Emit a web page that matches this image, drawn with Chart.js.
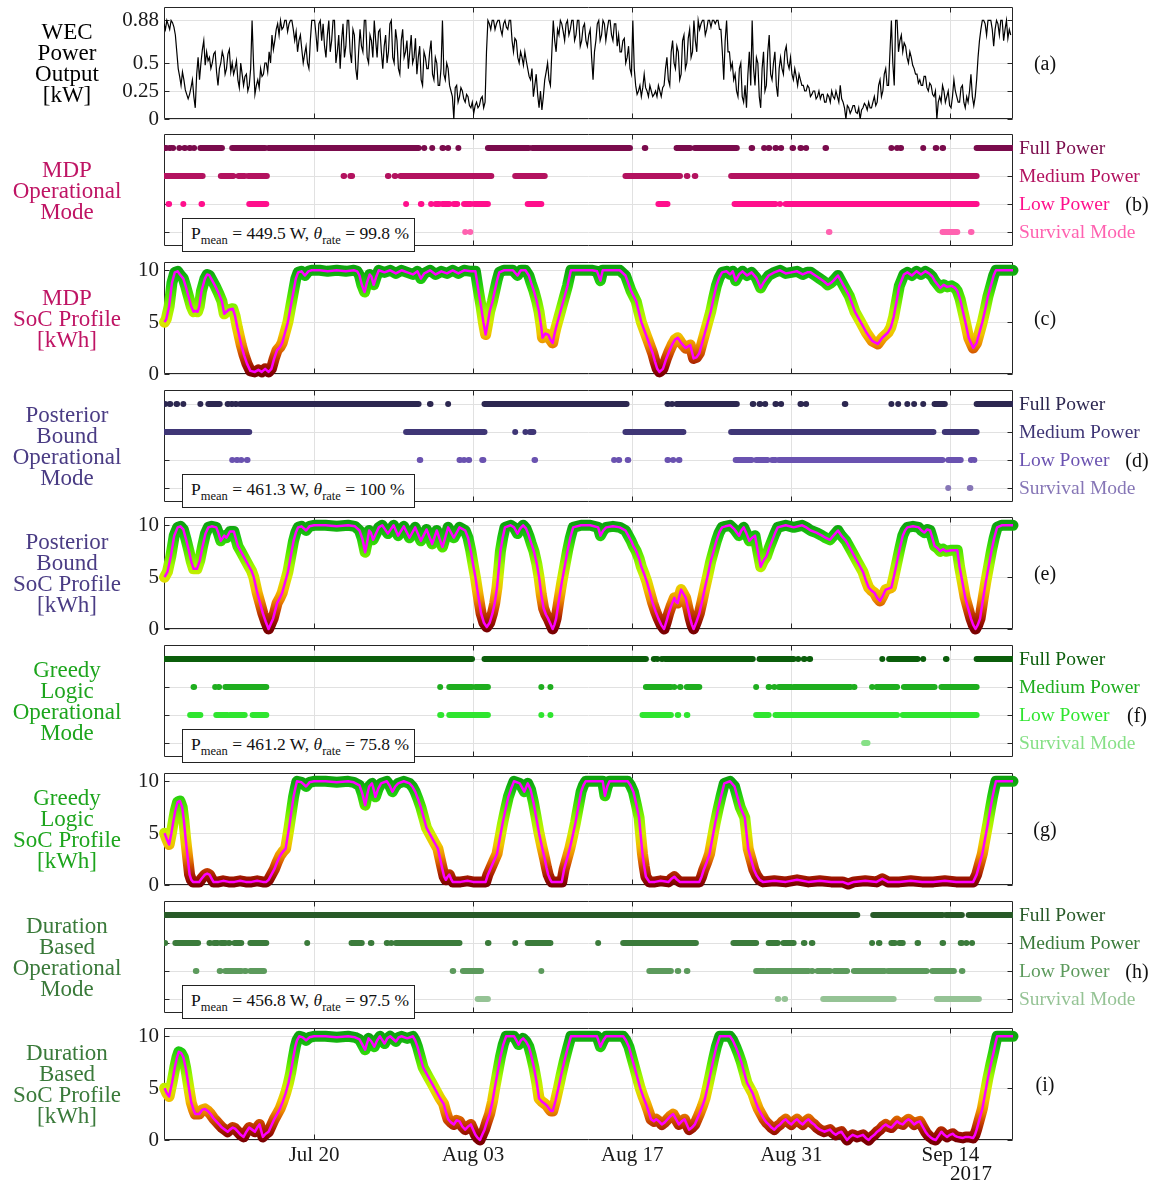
<!DOCTYPE html>
<html>
<head>
<meta charset="utf-8">
<script src="https://cdn.jsdelivr.net/npm/chart.js@4.4.1/dist/chart.umd.min.js"></script>
<style>
  body { margin: 0; background: #fff; }
  #wrap { position: relative; width: 1157px; height: 1184px; overflow: hidden; background: #fff;
          font-family: "Liberation Serif", "Times New Roman", serif; color: #111; }
  canvas { position: absolute; left: 0; }
  .lab { position: absolute; left: 0; width: 134px; text-align: center; font-size: 23px; line-height: 21px;
         transform: translateY(-50%); z-index: 4; }
  .mode { position: absolute; left: 1019px; font-size: 19.5px; line-height: 20px; white-space: nowrap;
          transform: translateY(-50%); z-index: 4; }
  .tag { position: absolute; font-size: 20px; line-height: 20px; transform: translate(-50%, -50%); z-index: 4; }
  .box { position: absolute; left: 182px; width: 233px; height: 34px; box-sizing: border-box; border: 1.3px solid #222;
         background: #fff; font-size: 17.5px; line-height: 28px; padding-left: 8px; z-index: 5; white-space: nowrap; }
  .box sub { font-size: 12.5px; vertical-align: -5px; line-height: 0; }
  .yr { position: absolute; left: 950px; top: 1161px; font-size: 21px; z-index: 4; }
</style>
</head>
<body>
<div id="wrap"></div>
<script>
const FONT = '"Liberation Serif", "Times New Roman", serif';

// ---- time axis (days counted from 1 July 2017) ----
const xMin = 5.8, xMax = 80.5;
const tickDays = [19, 33, 47, 61, 75];
const tickLabels = ['Jul 20', 'Aug 03', 'Aug 17', 'Aug 31', 'Sep 14'];

// ---- WEC power output [kW], one sample every 3 h from day 5.8 ----
const powerStart = 5.8, powerStep = 0.125;
const wecPower = [
  0.85, 0.8, 0.88, 0.84, 0.8, 0.88, 0.86, 0.82, 0.75, 0.6,
  0.45, 0.38, 0.3, 0.42, 0.35, 0.26, 0.22, 0.18,
  0.22, 0.28, 0.35, 0.2, 0.1, 0.4, 0.55, 0.35,
  0.5, 0.62, 0.7, 0.48, 0.6, 0.52, 0.55, 0.45,
  0.5, 0.58, 0.6, 0.42, 0.3, 0.45, 0.5, 0.6,
  0.55, 0.4, 0.45, 0.58, 0.62, 0.42, 0.5, 0.4,
  0.45, 0.52, 0.35, 0.28, 0.5, 0.4, 0.3, 0.38,
  0.4, 0.25, 0.3, 0.45, 0.88, 0.5, 0.22, 0.3,
  0.35, 0.28, 0.45, 0.38, 0.4, 0.5, 0.5, 0.42,
  0.6, 0.5, 0.75, 0.62, 0.7, 0.8, 0.85, 0.75,
  0.88, 0.8, 0.82, 0.88, 0.88, 0.78, 0.85, 0.88,
  0.88, 0.8, 0.7, 0.78, 0.6, 0.7, 0.75, 0.62,
  0.5, 0.58, 0.65, 0.5, 0.45, 0.7, 0.88, 0.88,
  0.88, 0.75, 0.6, 0.85, 0.88, 0.7, 0.85, 0.65,
  0.55, 0.75, 0.88, 0.6, 0.7, 0.88, 0.88, 0.5,
  0.6, 0.75, 0.45, 0.7, 0.85, 0.55, 0.65, 0.88,
  0.88, 0.6, 0.5, 0.8, 0.75, 0.45, 0.35, 0.6,
  0.8, 0.65, 0.6, 0.88, 0.88, 0.55, 0.5, 0.75,
  0.7, 0.55, 0.88, 0.7, 0.55, 0.78, 0.8, 0.6,
  0.45, 0.65, 0.75, 0.5, 0.6, 0.85, 0.88, 0.55,
  0.5, 0.8, 0.7, 0.45, 0.4, 0.7, 0.8, 0.55,
  0.6, 0.7, 0.45, 0.6, 0.75, 0.5, 0.55, 0.72,
  0.4, 0.55, 0.65, 0.35, 0.3, 0.6, 0.55, 0.45,
  0.45, 0.6, 0.7, 0.4, 0.35, 0.55, 0.5, 0.3,
  0.3, 0.45, 0.88, 0.4, 0.35, 0.5, 0.45, 0.3,
  0.25, 0.2, 0.0, 0.28, 0.3, 0.15, 0.2, 0.28,
  0.25, 0.18, 0.15, 0.22, 0.2, 0.12, 0.1, 0.15,
  0.05, 0.12, 0.15, 0.1, 0.12, 0.18, 0.2, 0.1,
  0.15, 0.6, 0.88, 0.85, 0.8, 0.88, 0.88, 0.8,
  0.85, 0.88, 0.88, 0.8, 0.75, 0.85, 0.88, 0.82,
  0.8, 0.88, 0.88, 0.7, 0.6, 0.72, 0.7, 0.55,
  0.5, 0.6, 0.55, 0.48, 0.6, 0.52, 0.45, 0.38,
  0.35, 0.45, 0.2, 0.3, 0.4, 0.22, 0.1, 0.25,
  0.08, 0.2, 0.35, 0.42, 0.5, 0.35, 0.3, 0.6,
  0.88, 0.7, 0.6, 0.8, 0.75, 0.88, 0.85, 0.78,
  0.7, 0.85, 0.88, 0.75, 0.8, 0.88, 0.88, 0.7,
  0.75, 0.88, 0.88, 0.65, 0.7, 0.82, 0.85, 0.7,
  0.65, 0.75, 0.8, 0.55, 0.35, 0.6, 0.7, 0.85,
  0.88, 0.7, 0.75, 0.88, 0.85, 0.7, 0.8, 0.88,
  0.88, 0.75, 0.7, 0.85, 0.85, 0.65, 0.75, 0.6,
  0.6, 0.7, 0.72, 0.5, 0.55, 0.65, 0.45, 0.4,
  0.88, 0.45, 0.3, 0.22, 0.25, 0.3, 0.2, 0.28,
  0.4, 0.28, 0.25, 0.2, 0.3, 0.25, 0.2, 0.22,
  0.25, 0.2, 0.3, 0.25, 0.2, 0.28, 0.3, 0.45,
  0.55, 0.35, 0.3, 0.6, 0.7, 0.5, 0.45, 0.65,
  0.6, 0.35, 0.4, 0.7, 0.75, 0.45, 0.5, 0.72,
  0.8, 0.55, 0.6, 0.88, 0.7, 0.6, 0.88, 0.8,
  0.85, 0.88, 0.88, 0.75, 0.8, 0.88, 0.88, 0.82,
  0.88, 0.88, 0.85, 0.88, 0.88, 0.8, 0.8, 0.6,
  0.35, 0.7, 0.88, 0.6, 0.6, 0.45, 0.5, 0.35,
  0.4, 0.25, 0.2, 0.45, 0.5, 0.2, 0.15, 0.3,
  0.1, 0.4, 0.6, 0.3, 0.88, 0.45, 0.3, 0.55,
  0.5, 0.2, 0.1, 0.45, 0.6, 0.25, 0.3, 0.6,
  0.75, 0.4, 0.35, 0.5, 0.6, 0.3, 0.2, 0.45,
  0.55, 0.45, 0.4, 0.6, 0.65, 0.5, 0.45, 0.55,
  0.4, 0.35, 0.45, 0.38, 0.3, 0.4, 0.35, 0.3,
  0.3, 0.25, 0.25, 0.3, 0.28, 0.2, 0.22, 0.25,
  0.25, 0.18, 0.2, 0.25, 0.18, 0.22, 0.22, 0.15,
  0.15, 0.22, 0.2, 0.15, 0.25, 0.2, 0.18, 0.25,
  0.2, 0.15, 0.3, 0.18, 0.15, 0.1, 0.0, 0.12,
  0.1, 0.05, 0.08, 0.12, 0.12, 0.06, 0.05, 0.1,
  0.0, 0.08, 0.1, 0.14, 0.12, 0.08, 0.15, 0.1,
  0.1, 0.15, 0.2, 0.12, 0.15, 0.3, 0.35, 0.2,
  0.25, 0.4, 0.45, 0.3, 0.3, 0.6, 0.88, 0.5,
  0.3, 0.88, 0.88, 0.6, 0.7, 0.75, 0.6, 0.68,
  0.65, 0.55, 0.5, 0.6, 0.55, 0.48, 0.45, 0.4,
  0.4, 0.32, 0.35, 0.3, 0.3, 0.38, 0.38, 0.28,
  0.25, 0.32, 0.3, 0.22, 0.2, 0.25, 0.0, 0.15,
  0.2, 0.15, 0.3, 0.25, 0.15, 0.2, 0.25, 0.12,
  0.1, 0.2, 0.35, 0.25, 0.2, 0.15, 0.15, 0.28,
  0.3, 0.15, 0.1, 0.2, 0.15, 0.25, 0.4, 0.2,
  0.12, 0.2, 0.35, 0.55, 0.7, 0.8, 0.88, 0.88,
  0.85, 0.75, 0.88, 0.88, 0.88, 0.8, 0.65, 0.8,
  0.88, 0.85, 0.75, 0.88, 0.88, 0.7, 0.8, 0.88,
  0.72, 0.8, 0.75
];
const powerTicks = [0, 0.25, 0.5, 0.88];
const powerTickLabels = ['0', '0.25', '0.5', '0.88'];

// ---- state of charge [kWh]: [day, value] ----
const socTicks = [0, 5, 10];
const socTickLabels = ['0', '5', '10'];

const socMDP = [[5.85,5.0],[6.0,5.3],[6.25,6.5],[6.5,8.8],[6.75,9.8],[7.0,9.9],[7.2,9.6],[7.5,9.2],[7.7,8.5],[7.95,7.5],[8.2,6.5],[8.4,6.0],[8.55,6.1],[8.75,6.0],[8.9,6.5],[9.1,8.0],[9.4,9.2],[9.6,9.6],[9.8,9.5],[10.05,9.0],[10.3,8.5],[10.6,7.8],[10.9,7.0],[11.1,5.8],[11.3,6.0],[11.5,6.2],[11.85,6.3],[12.05,5.6],[12.25,4.5],[12.6,2.8],[12.85,1.8],[13.1,1.0],[13.4,0.3],[13.8,0.2],[14.1,0.4],[14.4,0.2],[14.7,0.5],[15.0,0.2],[15.25,0.5],[15.5,1.5],[15.75,2.3],[16.0,2.6],[16.2,3.0],[16.45,4.0],[16.7,5.0],[16.95,6.5],[17.2,8.0],[17.4,9.2],[17.6,9.8],[17.9,9.9],[18.2,9.5],[18.5,9.9],[18.8,10],[19.5,10],[20.2,9.9],[21.0,10],[21.8,9.9],[22.5,10],[22.8,9.9],[23.0,9.5],[23.2,8.6],[23.45,7.9],[23.65,8.8],[23.9,9.6],[24.05,9.4],[24.25,8.6],[24.45,9.3],[24.7,10],[25.2,9.8],[25.7,10],[26.2,9.7],[26.7,10],[27.2,9.8],[27.7,9.6],[28.1,9.9],[28.4,9.2],[28.7,9.7],[29.2,10],[29.7,9.6],[30.2,9.9],[30.7,9.7],[31.2,10],[31.7,9.7],[32.2,10],[32.8,9.9],[33.2,9.9],[33.5,7.8],[33.7,6.5],[33.9,5.0],[34.1,3.8],[34.3,5.0],[34.45,6.0],[34.7,7.0],[34.9,8.0],[35.1,9.0],[35.3,9.8],[35.7,10],[36.5,10],[36.9,9.5],[37.2,10],[37.6,10],[37.9,9.5],[38.1,8.8],[38.35,8.0],[38.6,7.0],[38.8,6.0],[39.0,4.5],[39.1,3.5],[39.35,3.9],[39.6,3.8],[39.8,3.3],[40.0,3.0],[40.15,3.8],[40.3,4.5],[40.55,5.5],[40.8,6.5],[41.05,7.5],[41.3,8.5],[41.6,10],[42.5,10],[43.5,10],[43.9,9.9],[44.2,9.0],[44.4,10],[45.2,10],[45.9,10],[46.4,9.5],[46.9,8.0],[47.35,7.0],[47.8,5.0],[48.3,3.5],[48.8,2.0],[49.0,1.2],[49.2,0.5],[49.4,0.2],[49.7,0.5],[50.0,1.5],[50.25,2.2],[50.5,2.8],[50.75,3.3],[51.0,3.5],[51.3,3.0],[51.7,2.5],[52.1,2.8],[52.4,1.5],[52.65,1.6],[52.9,2.0],[53.15,3.0],[53.4,4.0],[53.65,5.0],[53.9,6.0],[54.15,7.3],[54.4,8.5],[54.65,9.3],[54.9,9.8],[55.3,9.9],[55.6,9.6],[55.85,9.9],[56.1,9.0],[56.4,9.6],[56.7,9.9],[57.1,9.5],[57.5,9.8],[57.9,9.3],[58.3,8.3],[58.6,8.9],[59.0,9.5],[59.5,9.8],[60.0,10],[60.5,9.7],[61.0,9.8],[61.5,9.9],[62.0,9.6],[62.4,9.8],[62.7,9.8],[63.1,9.5],[63.5,9.2],[63.9,8.9],[64.2,8.6],[64.5,8.8],[64.7,9.0],[65.1,9.5],[65.35,9.0],[65.6,8.5],[66.1,7.5],[66.6,6.0],[67.1,5.0],[67.6,4.0],[68.1,3.2],[68.6,2.9],[69.0,3.5],[69.5,4.0],[69.75,4.5],[70.0,5.5],[70.25,7.0],[70.5,8.5],[70.9,9.6],[71.2,9.8],[71.6,9.5],[72.0,9.9],[72.4,9.6],[72.8,9.9],[73.1,9.7],[73.4,9.4],[73.6,9.0],[74.1,8.3],[74.4,8.6],[74.7,8.4],[75.1,8.5],[75.4,8.3],[75.6,8.0],[75.85,7.2],[76.1,6.0],[76.35,4.8],[76.6,3.5],[77.0,2.5],[77.3,3.0],[77.55,4.0],[77.8,5.0],[78.05,6.2],[78.3,7.5],[78.55,8.5],[78.8,9.5],[79.0,10],[80.5,10]];

const socPB = [[5.85,5.0],[6.1,5.5],[6.4,7.0],[6.7,9.0],[7.0,9.8],[7.25,9.9],[7.5,9.6],[7.75,8.6],[8.0,7.5],[8.2,6.5],[8.4,5.8],[8.7,5.8],[8.95,6.6],[9.2,8.0],[9.45,9.2],[9.7,9.8],[10.0,9.9],[10.4,9.8],[10.6,9.2],[10.8,8.5],[11.1,9.0],[11.3,8.8],[11.6,9.4],[11.95,9.4],[12.1,8.8],[12.3,8.0],[12.55,7.5],[12.8,7.0],[13.05,6.5],[13.3,6.0],[13.5,5.6],[13.7,5.0],[14.0,3.5],[14.25,2.5],[14.5,1.5],[14.75,0.7],[15.0,0.0],[15.2,0.5],[15.4,1.0],[15.75,2.5],[16.0,3.0],[16.2,3.5],[16.45,4.5],[16.7,5.5],[16.95,7.0],[17.2,8.5],[17.4,9.3],[17.6,9.8],[17.9,9.9],[18.3,9.5],[18.6,9.9],[19.0,10],[20.0,10],[21.0,9.9],[22.0,10],[22.6,9.9],[23.0,9.5],[23.25,8.7],[23.5,7.4],[23.7,8.5],[23.85,9.5],[24.0,9.3],[24.2,8.6],[24.45,9.2],[24.7,9.8],[25.0,10],[25.5,9.2],[26.0,10],[26.4,9.0],[26.9,9.9],[27.4,8.8],[27.9,9.8],[28.4,8.5],[28.9,9.6],[29.4,8.2],[29.8,9.5],[30.3,7.9],[30.8,9.8],[31.3,8.8],[31.8,9.8],[32.3,9.5],[32.55,8.8],[32.8,7.5],[33.0,6.2],[33.2,5.0],[33.45,3.2],[33.7,1.5],[33.95,0.6],[34.2,0.2],[34.45,0.6],[34.7,1.5],[34.9,2.5],[35.1,4.0],[35.25,5.7],[35.4,7.5],[35.6,8.8],[35.8,9.8],[36.3,10],[36.6,9.8],[36.9,9.2],[37.15,9.7],[37.4,10],[37.65,9.7],[37.9,9.0],[38.1,8.3],[38.35,7.5],[38.6,6.3],[38.8,5.0],[39.0,3.3],[39.2,2.0],[39.4,1.4],[39.6,1.0],[39.8,0.5],[40.0,0.0],[40.15,0.4],[40.3,1.0],[40.55,2.8],[40.8,4.5],[41.05,6.0],[41.3,7.5],[41.55,8.8],[41.8,9.8],[42.5,10],[43.3,10],[44.0,9.8],[44.2,9.0],[44.45,9.5],[44.7,9.8],[45.3,9.9],[45.9,9.8],[46.4,9.5],[46.65,9.0],[46.9,8.5],[47.1,8.0],[47.35,7.5],[47.6,6.8],[47.8,6.0],[48.05,5.3],[48.3,4.5],[48.55,3.5],[48.8,2.5],[49.05,1.7],[49.3,1.0],[49.55,0.4],[49.8,0.0],[50.0,0.7],[50.2,1.5],[50.45,2.3],[50.7,3.0],[50.85,2.6],[51.0,2.5],[51.15,3.2],[51.3,3.8],[51.5,3.4],[51.7,3.0],[51.9,2.0],[52.1,1.0],[52.25,0.4],[52.4,0.0],[52.65,0.7],[52.9,1.5],[53.15,2.7],[53.4,4.0],[53.65,5.2],[53.9,6.5],[54.15,7.5],[54.4,8.5],[54.65,9.3],[54.9,9.8],[55.2,9.9],[55.6,10],[56.0,9.6],[56.4,9.0],[56.6,9.5],[56.8,9.8],[57.05,9.2],[57.3,8.5],[57.55,8.8],[57.8,9.0],[58.05,7.5],[58.3,6.0],[58.55,6.6],[58.8,7.0],[59.05,7.8],[59.3,8.5],[59.55,9.2],[59.8,9.8],[60.5,10],[61.2,9.8],[61.95,10],[62.3,9.8],[62.7,9.5],[63.2,9.3],[63.7,9.0],[64.0,8.8],[64.4,8.6],[64.7,9.0],[65.1,9.5],[65.4,9.0],[65.8,8.5],[66.3,7.5],[66.8,6.5],[67.3,5.5],[67.55,4.7],[67.8,4.0],[68.05,3.7],[68.3,3.5],[68.55,3.0],[68.8,2.7],[69.05,3.2],[69.3,3.8],[69.55,3.9],[69.8,4.0],[70.05,5.2],[70.3,6.5],[70.55,7.8],[70.8,9.0],[71.0,9.5],[71.2,9.8],[71.7,9.9],[72.2,9.8],[72.45,9.5],[72.7,9.3],[72.95,9.6],[73.2,9.5],[73.4,8.8],[73.6,8.0],[73.85,7.8],[74.1,7.5],[74.35,7.7],[74.6,7.5],[75.1,7.6],[75.6,7.6],[75.8,6.0],[76.05,4.5],[76.3,3.0],[76.55,2.0],[76.8,1.0],[77.0,0.4],[77.2,0.0],[77.4,0.4],[77.6,1.0],[77.85,2.8],[78.1,4.5],[78.35,6.0],[78.6,7.5],[78.85,8.8],[79.1,9.8],[79.5,10],[80.5,10]];

const socGreedy = [[5.85,5.0],[6.05,4.4],[6.25,3.9],[6.45,5.0],[6.6,6.0],[6.8,7.2],[7.0,8.0],[7.2,8.1],[7.4,7.5],[7.55,6.2],[7.7,4.5],[7.9,2.5],[8.05,1.0],[8.2,0.5],[8.35,0.3],[8.65,0.3],[8.9,0.3],[9.1,0.6],[9.4,1.0],[9.6,1.1],[9.8,1.0],[10.0,0.6],[10.15,0.3],[10.6,0.3],[11.0,0.4],[11.5,0.3],[12.0,0.3],[12.5,0.4],[13.0,0.3],[13.5,0.3],[14.0,0.4],[14.5,0.3],[14.8,0.3],[15.0,0.5],[15.25,1.0],[15.5,1.5],[15.75,2.2],[16.0,2.8],[16.25,3.2],[16.5,3.5],[16.65,4.5],[16.8,5.5],[17.0,7.0],[17.2,8.5],[17.35,9.3],[17.5,10],[17.9,9.9],[18.3,9.5],[18.6,9.9],[19.0,10],[20.0,10],[21.0,9.9],[22.0,10],[22.5,9.9],[23.0,9.6],[23.25,8.8],[23.5,7.7],[23.7,8.8],[23.85,9.5],[24.1,9.8],[24.25,9.2],[24.4,8.5],[24.65,9.3],[24.9,9.8],[25.4,10],[25.65,9.6],[25.9,9.0],[26.15,9.5],[26.4,9.8],[26.9,10],[27.4,9.8],[27.65,9.5],[27.9,9.0],[28.15,8.3],[28.4,7.5],[28.65,6.5],[28.9,5.5],[29.15,5.0],[29.4,4.5],[29.65,4.0],[29.9,3.5],[30.1,2.5],[30.3,1.5],[30.45,0.8],[30.6,0.5],[30.75,0.8],[30.9,1.0],[31.05,0.6],[31.2,0.3],[31.9,0.3],[32.5,0.4],[33.0,0.3],[33.5,0.3],[34.1,0.3],[34.3,1.0],[34.5,1.5],[34.7,2.0],[34.9,2.5],[35.1,3.0],[35.35,4.5],[35.6,6.0],[35.85,7.3],[36.1,8.5],[36.35,9.3],[36.6,10],[37.1,9.8],[37.5,9.0],[37.8,9.8],[38.05,9.2],[38.3,8.0],[38.55,6.5],[38.8,5.0],[39.05,3.7],[39.3,2.5],[39.45,1.7],[39.6,1.0],[39.75,0.6],[39.9,0.3],[40.4,0.3],[40.8,0.3],[41.0,1.5],[41.25,2.5],[41.5,3.5],[41.75,4.7],[42.0,6.0],[42.25,7.5],[42.5,9.0],[42.7,9.6],[42.9,10],[43.7,10],[44.4,10],[44.6,8.6],[44.8,9.5],[45.0,10],[45.8,10],[46.6,10],[46.85,9.6],[47.1,9.0],[47.35,7.8],[47.6,6.5],[47.75,4.7],[47.9,3.0],[48.05,1.8],[48.2,0.8],[48.5,0.3],[49.0,0.3],[49.5,0.4],[50.2,0.3],[50.45,0.6],[50.7,0.8],[50.95,0.5],[51.2,0.3],[52.0,0.3],[52.9,0.3],[53.1,0.8],[53.3,1.5],[53.55,2.2],[53.8,3.0],[54.05,4.5],[54.3,6.0],[54.55,7.3],[54.8,8.5],[55.1,9.8],[55.6,10],[56.0,9.5],[56.25,8.5],[56.5,7.5],[56.9,6.5],[57.05,5.0],[57.2,3.5],[57.45,2.5],[57.7,1.5],[57.95,0.9],[58.2,0.5],[58.5,0.3],[59.5,0.4],[60.5,0.3],[61.5,0.5],[62.5,0.3],[63.5,0.4],[64.5,0.3],[65.5,0.3],[66.0,0.1],[66.5,0.3],[67.5,0.4],[68.5,0.3],[69.0,0.6],[69.5,0.3],[70.5,0.3],[71.5,0.4],[72.5,0.3],[73.5,0.3],[74.5,0.4],[75.5,0.3],[76.5,0.3],[77.0,0.3],[77.3,1.0],[77.55,2.0],[77.8,3.0],[78.05,4.5],[78.3,6.0],[78.5,7.3],[78.7,8.5],[78.85,9.3],[79.0,10],[80.5,10]];

const socDB = [[5.85,5.0],[6.05,4.5],[6.25,4.2],[6.5,5.5],[6.75,7.0],[6.95,8.0],[7.1,8.5],[7.3,8.4],[7.5,8.0],[7.7,7.0],[7.85,6.0],[8.05,4.6],[8.2,3.6],[8.4,2.9],[8.55,2.5],[8.9,2.5],[9.15,2.9],[9.4,3.0],[9.65,2.8],[9.9,2.5],[10.15,2.1],[10.4,1.8],[10.65,1.5],[10.9,1.2],[11.15,1.0],[11.4,0.8],[11.6,1.0],[11.85,1.2],[12.05,1.1],[12.3,0.8],[12.55,0.5],[12.8,0.3],[13.05,0.8],[13.3,1.2],[13.55,1.0],[13.8,0.8],[14.0,1.2],[14.2,1.5],[14.35,0.9],[14.5,0.3],[14.75,0.6],[15.0,0.8],[15.25,1.4],[15.5,2.0],[15.75,2.5],[16.0,3.0],[16.25,3.7],[16.5,4.5],[16.75,5.5],[16.95,6.5],[17.15,7.8],[17.35,9.0],[17.5,9.6],[17.7,10],[18.0,9.9],[18.3,9.6],[18.6,9.9],[19.0,10],[20.0,10],[21.0,9.9],[22.0,10],[22.6,9.9],[23.0,9.7],[23.25,9.2],[23.5,8.7],[23.65,9.3],[23.8,9.8],[24.05,9.5],[24.3,9.0],[24.55,9.6],[24.8,10],[25.2,9.3],[25.45,9.8],[25.7,10],[26.2,9.5],[26.45,9.9],[26.7,10],[27.2,9.8],[27.7,10],[27.9,9.6],[28.1,9.0],[28.35,8.0],[28.6,7.0],[28.85,6.5],[29.1,6.0],[29.35,5.5],[29.6,5.0],[29.85,4.5],[30.1,4.0],[30.4,3.5],[30.6,2.7],[30.8,2.0],[31.05,1.7],[31.3,1.5],[31.55,1.9],[31.8,1.8],[32.05,1.3],[32.3,1.0],[32.55,1.3],[32.8,1.5],[33.0,1.0],[33.2,0.5],[33.4,0.2],[33.6,0.0],[33.8,0.5],[34.0,1.0],[34.2,1.7],[34.45,2.5],[34.7,3.7],[34.9,5.0],[35.15,6.5],[35.4,8.0],[35.65,9.2],[35.9,10],[36.6,10],[36.8,9.6],[37.0,9.2],[37.2,9.6],[37.4,9.8],[37.65,9.5],[37.9,9.0],[38.1,8.2],[38.35,7.0],[38.6,5.5],[38.8,4.0],[39.05,3.7],[39.3,3.5],[39.5,3.3],[39.7,3.0],[39.85,2.8],[40.0,2.8],[40.25,3.8],[40.5,5.0],[40.75,6.3],[41.0,7.5],[41.3,8.8],[41.6,10],[42.5,10],[43.3,10],[43.9,10],[44.2,9.0],[44.45,9.6],[44.7,10],[45.5,10],[46.2,10],[46.45,9.6],[46.7,9.0],[46.95,8.0],[47.2,7.0],[47.45,6.0],[47.7,5.0],[47.95,4.2],[48.2,3.5],[48.45,2.7],[48.65,2.0],[48.9,1.8],[49.1,2.0],[49.35,1.8],[49.6,1.5],[49.85,1.7],[50.1,2.0],[50.35,2.3],[50.6,2.5],[50.85,2.0],[51.1,1.5],[51.35,1.8],[51.6,2.0],[51.8,1.5],[52.0,1.0],[52.25,1.2],[52.5,1.5],[52.7,2.0],[52.9,2.5],[53.15,3.2],[53.4,4.0],[53.65,5.2],[53.9,6.5],[54.15,7.8],[54.4,9.0],[54.7,10],[55.6,10],[55.85,9.6],[56.1,9.0],[56.35,8.3],[56.6,7.5],[56.85,6.5],[57.1,5.5],[57.35,5.0],[57.6,4.5],[57.85,3.7],[58.1,3.0],[58.35,2.5],[58.6,2.0],[58.8,1.7],[59.0,1.5],[59.25,1.2],[59.5,1.0],[59.75,1.3],[60.0,1.5],[60.25,1.8],[60.5,2.0],[60.75,1.7],[61.0,1.5],[61.25,1.8],[61.5,2.0],[61.75,1.7],[62.0,1.5],[62.25,1.8],[62.5,2.0],[62.75,1.7],[63.0,1.5],[63.25,1.2],[63.5,1.0],[63.7,0.9],[63.9,0.8],[64.15,0.9],[64.4,1.0],[64.65,0.7],[64.9,0.5],[65.15,0.7],[65.4,0.8],[65.65,0.4],[65.9,0.0],[66.15,0.3],[66.4,0.5],[66.6,0.4],[66.8,0.3],[67.05,0.4],[67.3,0.5],[67.55,0.2],[67.8,0.0],[68.05,0.3],[68.3,0.5],[68.55,0.8],[68.8,1.0],[69.05,1.3],[69.3,1.5],[69.55,1.3],[69.8,1.2],[70.05,1.5],[70.3,1.8],[70.55,1.6],[70.8,1.5],[71.05,1.8],[71.3,2.0],[71.55,1.8],[71.8,1.5],[72.05,1.7],[72.3,1.8],[72.55,1.3],[72.8,0.8],[73.0,0.5],[73.2,0.3],[73.45,0.1],[73.7,0.0],[73.95,0.4],[74.2,0.8],[74.45,0.5],[74.7,0.3],[74.95,0.5],[75.2,0.6],[75.4,0.4],[75.6,0.3],[75.85,0.25],[76.1,0.2],[76.35,0.3],[76.6,0.3],[76.8,0.25],[77.0,0.2],[77.15,0.5],[77.3,1.0],[77.55,2.0],[77.8,3.0],[78.05,4.5],[78.3,6.0],[78.55,7.3],[78.8,8.5],[78.95,9.3],[79.1,10],[80.5,10]];

// ---- operational modes: runs of samples [startDay, endDay] per mode ----
const modeLevels = [4, 3, 2, 1];
const modeNames = ['Full Power', 'Medium Power', 'Low Power', 'Survival Mode'];

const mdpFull = [[5.95,6.0],[6.3,6.35],[6.6,6.65],[7.15,7.2],[7.6,7.65],[8.05,8.1],[8.45,8.5],[9.0,10.9],[11.8,14.7],[15.0,28.2],[28.7,28.75],[29.4,29.45],[30.3,30.35],[30.8,30.85],[31.7,31.75],[34.3,37.9],[38.2,46.8],[48.1,48.15],[50.9,52.1],[52.5,56.2],[57.5,57.55],[58.6,58.65],[59.0,59.05],[59.6,59.65],[60.1,60.15],[61.1,61.15],[61.8,61.85],[62.3,62.35],[64.0,64.05],[69.8,69.85],[70.3,70.35],[70.6,70.65],[72.6,72.65],[73.7,73.75],[74.3,74.35],[77.3,80.5]];
const mdpMedium = [[5.85,9.2],[10.8,11.9],[12.35,12.9],[13.2,14.85],[21.6,21.65],[22.2,22.35],[25.5,25.55],[26.1,26.15],[26.6,34.6],[36.7,39.3],[46.4,51.2],[51.8,51.85],[52.5,52.55],[55.7,77.3]];
const mdpLow = [[6.2,6.25],[7.5,7.55],[9.1,9.15],[13.3,14.8],[27.1,27.15],[28.4,28.45],[29.3,29.35],[29.7,30.0],[30.3,30.9],[31.3,31.6],[32.2,32.8],[33.1,34.3],[37.8,39.0],[49.3,50.1],[56.0,59.6],[60.0,60.05],[60.5,77.3]];
const mdpSurvival = [[32.3,32.35],[32.75,32.8],[64.3,64.35],[74.3,75.6],[76.8,76.85]];

const pbFull = [[5.9,5.95],[6.3,6.35],[6.9,6.95],[7.5,7.55],[9.0,9.05],[9.7,10.7],[11.4,11.45],[11.75,11.8],[12.1,12.15],[12.5,28.2],[29.2,29.25],[30.8,30.85],[34.0,46.5],[50.1,50.15],[50.5,50.55],[50.9,56.2],[57.6,57.65],[58.2,58.25],[58.7,58.75],[59.6,59.65],[60.1,60.15],[61.8,61.85],[62.3,62.35],[65.7,65.75],[69.8,69.85],[70.4,70.45],[71.2,71.25],[71.8,71.85],[72.6,72.65],[73.6,74.5],[77.3,80.5]];
const pbMedium = [[5.85,13.3],[27.1,34.0],[36.7,36.75],[37.6,37.65],[38.0,38.3],[46.4,51.5],[55.7,73.5],[74.5,77.3]];
const pbLow = [[11.8,11.85],[12.2,12.25],[12.6,12.65],[13.1,13.15],[28.3,28.35],[31.8,31.85],[32.2,32.25],[32.6,32.65],[33.8,33.9],[38.4,38.45],[45.4,45.45],[45.8,45.85],[46.6,46.65],[50.1,50.15],[50.6,50.65],[51.1,51.15],[56.1,57.5],[57.9,58.9],[59.3,59.6],[59.9,74.3],[74.8,75.9],[76.8,76.85],[77.1,77.15]];
const pbSurvival = [[74.8,74.85],[76.7,76.75]];

const grFull = [[5.85,32.9],[34.0,48.2],[48.9,48.95],[49.2,49.25],[49.6,49.65],[49.9,57.6],[58.2,61.2],[61.6,61.65],[62.1,62.15],[62.6,62.65],[69.0,69.05],[69.6,72.1],[72.6,72.65],[74.6,74.65],[77.3,80.5]];
const grMedium = [[8.4,8.45],[10.3,10.35],[10.6,10.65],[11.2,14.8],[30.1,30.15],[30.9,32.9],[33.2,34.3],[39.0,39.05],[39.8,39.85],[48.2,50.4],[50.7,50.75],[51.2,51.25],[51.8,52.9],[57.9,57.95],[59.0,59.05],[59.5,59.55],[59.9,61.0],[61.2,66.2],[66.5,66.55],[68.1,68.15],[68.5,70.3],[70.9,73.6],[74.2,77.3]];
const grLow = [[8.1,9.0],[10.4,11.4],[11.6,12.9],[13.6,14.8],[30.1,30.2],[30.9,34.3],[39.0,39.05],[39.8,39.85],[47.9,50.4],[51.0,51.05],[51.8,51.85],[57.9,59.0],[59.6,70.3],[70.8,77.3]];
const grSurvival = [[67.4,67.7]];

const dbFull = [[5.85,66.8],[68.2,74.3],[74.6,76.0],[76.6,80.5]];
const dbMedium = [[5.85,5.9],[6.8,8.8],[9.8,9.85],[10.2,10.5],[10.8,11.2],[11.5,11.55],[12.0,12.6],[13.4,14.8],[18.4,18.45],[22.3,23.2],[24.0,24.05],[25.4,25.45],[25.8,25.85],[26.2,31.8],[34.3,34.35],[36.7,36.75],[37.8,39.8],[44.0,44.05],[46.2,52.6],[55.9,57.9],[59.0,59.8],[60.3,61.2],[62.1,62.15],[62.8,62.85],[68.1,68.15],[68.7,68.75],[69.8,70.1],[70.5,70.8],[72.1,72.15],[74.3,74.35],[75.9,76.0],[76.4,76.45],[76.9,76.95]];
const dbLow = [[8.6,8.65],[10.7,10.75],[11.2,12.6],[12.9,13.0],[13.4,14.6],[31.2,31.25],[32.1,33.7],[39.0,39.05],[48.5,50.4],[51.0,51.05],[51.8,51.85],[57.9,58.6],[58.8,62.5],[62.8,62.85],[63.3,64.4],[64.8,65.9],[66.5,69.2],[69.5,72.9],[73.4,75.3],[76.0,76.05]];
const dbSurvival = [[33.4,34.3],[59.8,59.85],[60.4,60.45],[63.8,70.0],[73.8,77.5]];

// ---- summary statistics per policy ----
const pMean = ['449.5', '461.3', '461.2', '456.8'];
const thetaRate = ['99.8', '100', '75.8', '97.5'];

// ---- layout ----
const panelTops = [7, 134, 262, 390, 517, 645, 773, 901, 1028];
const PH = 112;
const wrap = document.getElementById('wrap');

const framePlugin = {
  id: 'frame',
  beforeDatasetsDraw(chart, args, opts) {
    const { ctx, chartArea: a, scales: { x, y } } = chart;
    ctx.save();
    ctx.strokeStyle = '#262626';
    ctx.lineWidth = 1;
    const L = Math.round(a.left) + 0.5, R = Math.round(a.right) - 0.5;
    const T = Math.round(a.top) + 0.5, B = Math.round(a.bottom) - 0.5;
    const tl = 5;
    ctx.beginPath();
    ctx.rect(L, T, R - L, B - T);
    tickDays.forEach(d => {
      const px = Math.round(x.getPixelForValue(d)) + 0.5;
      ctx.moveTo(px, T); ctx.lineTo(px, T + tl);
      ctx.moveTo(px, B); ctx.lineTo(px, B - tl);
    });
    (opts.yTicks || []).forEach(v => {
      const py = Math.round(y.getPixelForValue(v)) + 0.5;
      ctx.moveTo(L, py); ctx.lineTo(L + tl, py);
      ctx.moveTo(R, py); ctx.lineTo(R - tl, py);
    });
    ctx.stroke();
    ctx.restore();
  }
};

const socStops = [[0,'#7a0000'],[0.08,'#a01800'],[0.18,'#cc4800'],[0.28,'#ec8c00'],[0.38,'#f0c200'],
                  [0.5,'#d4ea00'],[0.62,'#9cf500'],[0.75,'#55e600'],[0.88,'#1ecb10'],[1,'#0fa30f']];
function socGradient(context) {
  const chart = context.chart;
  const { ctx, chartArea, scales } = chart;
  if (!chartArea) return '#0a0';
  const y0 = scales.y.getPixelForValue(0), y1 = scales.y.getPixelForValue(10);
  const g = ctx.createLinearGradient(0, y0, 0, y1);
  socStops.forEach(([o, c]) => g.addColorStop(o, c));
  return g;
}

function makeChart(idx, cfg) {
  const top = panelTops[idx];
  const isLast = idx === 8;
  const padT = 14, padB = isLast ? 0 : 14, xH = isLast ? 44 : 0;
  const canvas = document.createElement('canvas');
  canvas.width = 1157;
  canvas.height = padT + PH + padB + xH;
  canvas.style.top = (top - padT) + 'px';
  wrap.appendChild(canvas);
  new Chart(canvas, {
    type: 'line',
    data: { datasets: cfg.datasets },
    options: {
      responsive: false, animation: false, devicePixelRatio: 1, events: [],
      layout: { padding: { left: 0, right: 144, top: padT, bottom: padB } },
      plugins: { legend: { display: false }, tooltip: { enabled: false }, frame: { yTicks: cfg.yTicks } },
      scales: {
        x: {
          type: 'linear', min: xMin, max: xMax,
          afterBuildTicks: s => { s.ticks = tickDays.map(v => ({ value: v })); },
          afterFit: s => { s.height = xH; s.paddingLeft = 0; s.paddingRight = 0; },
          grid: { color: '#e1e1e1', lineWidth: 1, drawTicks: false },
          border: { display: false },
          ticks: { display: isLast, autoSkip: false, maxRotation: 0, padding: 3, color: '#1a1a1a',
                   font: { family: FONT, size: 21 }, callback: (v, i) => tickLabels[i] }
        },
        y: {
          type: 'linear', min: cfg.yMin, max: cfg.yMax,
          afterBuildTicks: s => { s.ticks = cfg.yTicks.map(v => ({ value: v })); },
          afterFit: s => { s.width = 164; s.paddingTop = 0; s.paddingBottom = 0; },
          grid: { color: '#e1e1e1', lineWidth: 1, drawTicks: false },
          border: { display: false },
          ticks: { display: !!cfg.yLabels, padding: 5, color: '#1a1a1a',
                   font: { family: FONT, size: 21 }, callback: (v, i) => cfg.yLabels ? cfg.yLabels[i] : '' }
        }
      }
    },
    plugins: [framePlugin]
  });
}

const toXY = pairs => pairs.map(([d, v]) => ({ x: d, y: v }));

function socDatasets(pairs) {
  const pts = toXY(pairs);
  return [
    { data: pts, borderColor: socGradient, borderWidth: 11, borderJoinStyle: 'round', borderCapStyle: 'round',
      pointRadius: 0, tension: 0, clip: false, order: 1 },
    { data: pts, borderColor: '#ff00ff', borderWidth: 2.5, borderJoinStyle: 'round',
      pointRadius: 0, tension: 0, clip: false, order: 0 }
  ];
}

function runsToPoints(runs, level) {
  const pts = [];
  runs.forEach(([a, b]) => { pts.push({ x: a, y: level }, { x: b, y: level }, { x: b, y: null }); });
  return pts;
}

function modeDatasets(runsByMode, colors) {
  return runsByMode.map((runs, k) => ({
    data: runsToPoints(runs, modeLevels[k]), borderColor: colors[k], borderWidth: 6,
    borderCapStyle: 'round', pointRadius: 0, spanGaps: false, tension: 0
  }));
}

// (a) WEC power output
makeChart(0, {
  yMin: 0, yMax: 1.0, yTicks: powerTicks, yLabels: powerTickLabels,
  datasets: [{ data: wecPower.map((v, i) => ({ x: powerStart + i * powerStep, y: v })),
               borderColor: '#000', borderWidth: 1.2, pointRadius: 0, tension: 0 }]
});

const policies = [
  { mode: [mdpFull, mdpMedium, mdpLow, mdpSurvival], soc: socMDP,
    colors: ['#7a0b4c', '#b3125f', '#ff0f8c', '#ff62b0'], label: '#bf1464',
    modeTitle: ['MDP', 'Operational', 'Mode'], socTitle: ['MDP', 'SoC Profile', '[kWh]'] },
  { mode: [pbFull, pbMedium, pbLow, pbSurvival], soc: socPB,
    colors: ['#2c2750', '#3f3676', '#6a52b0', '#8676b6'], label: '#4a3c84',
    modeTitle: ['Posterior', 'Bound', 'Operational', 'Mode'], socTitle: ['Posterior', 'Bound', 'SoC Profile', '[kWh]'] },
  { mode: [grFull, grMedium, grLow, grSurvival], soc: socGreedy,
    colors: ['#0b5e0b', '#1fae1f', '#2fe52f', '#86e086'], label: '#1da51d',
    modeTitle: ['Greedy', 'Logic', 'Operational', 'Mode'], socTitle: ['Greedy', 'Logic', 'SoC Profile', '[kWh]'] },
  { mode: [dbFull, dbMedium, dbLow, dbSurvival], soc: socDB,
    colors: ['#285a28', '#3b7b3b', '#5c9a5c', '#95c395'], label: '#3a7a3a',
    modeTitle: ['Duration', 'Based', 'Operational', 'Mode'], socTitle: ['Duration', 'Based', 'SoC Profile', '[kWh]'] }
];

function addDiv(cls, html, style) {
  const d = document.createElement('div');
  d.className = cls;
  d.innerHTML = html;
  Object.assign(d.style, style);
  wrap.appendChild(d);
  return d;
}

addDiv('lab', 'WEC<br>Power<br>Output<br>[kW]', { top: (panelTops[0] + PH / 2) + 'px', color: '#000' });
addDiv('tag', '(a)', { left: '1045px', top: (panelTops[0] + PH / 2) + 'px' });

const letters = ['b', 'c', 'd', 'e', 'f', 'g', 'h', 'i'];
policies.forEach((p, k) => {
  const mi = 1 + 2 * k, si = 2 + 2 * k;
  makeChart(mi, { yMin: 0.5, yMax: 4.5, yTicks: [1, 2, 3, 4], yLabels: null,
                  datasets: modeDatasets(p.mode, p.colors) });
  makeChart(si, { yMin: 0, yMax: 10.8, yTicks: socTicks, yLabels: socTickLabels,
                  datasets: socDatasets(p.soc) });

  const mt = panelTops[mi], st = panelTops[si];
  addDiv('lab', p.modeTitle.join('<br>'), { top: (mt + PH / 2) + 'px', color: p.label });
  addDiv('lab', p.socTitle.join('<br>'), { top: (st + PH / 2) + 'px', color: p.label });
  modeNames.forEach((n, j) => {
    const yPix = mt + PH * (4.5 - modeLevels[j]) / 4;
    addDiv('mode', n, { top: yPix + 'px', color: p.colors[j] });
  });
  addDiv('tag', '(' + letters[2 * k] + ')', { left: '1137px', top: (mt + PH * 2.5 / 4) + 'px' });
  addDiv('tag', '(' + letters[2 * k + 1] + ')', { left: '1045px', top: (st + PH / 2) + 'px' });
  addDiv('box', 'P<sub>mean</sub> = ' + pMean[k] + ' W, <i>&theta;</i><sub>rate</sub> = ' + thetaRate[k] + ' %',
         { top: (mt + 84) + 'px' });
});

addDiv('yr', '2017', {});
</script>
</body>
</html>
